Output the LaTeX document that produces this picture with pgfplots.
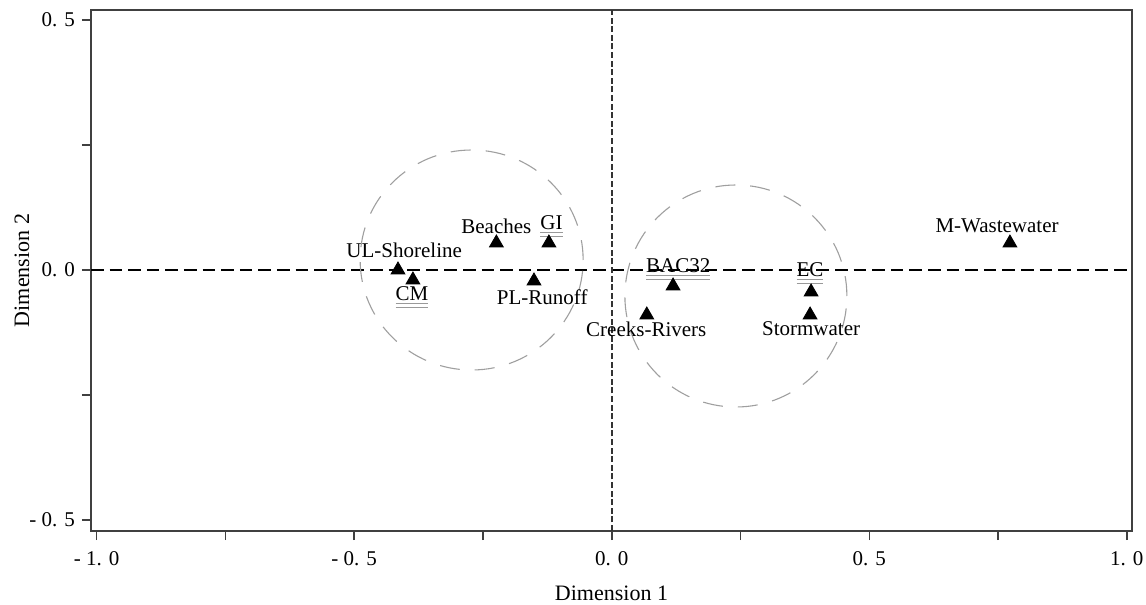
\documentclass[border=0pt]{standalone}
\usepackage{pgfplots}
\pgfplotsset{compat=1.18}
\usepackage{fontspec}
\setmainfont{Liberation Serif}
\newcommand\f{\fontsize{10.5}{12.6}\selectfont}
\newcommand\ul[1]{\textcolor{gray!80}{$\underline{\underline{\hbox{\color{black}#1}}}$}}
\begin{document}
\begin{tikzpicture}
\begin{axis}[
  scale only axis,
  width=520.5pt, height=260.5pt,
  xmin=-1.011, xmax=1.010,
  ymin=-0.522, ymax=0.52,
  axis line style={draw=black!75, line width=0.75pt},
  tick style={draw=black!75, line width=0.75pt},
  major tick length=4.5pt, minor tick length=4.5pt,
  tick align=outside,
  xtick pos=bottom, ytick pos=left,
  xtick={-1,-0.5,0,0.5,1},
  xticklabels={- 1. 0,- 0. 5,0. 0,0. 5,1. 0},
  minor xtick={-0.75,-0.25,0.25,0.75},
  ytick={-0.5,0,0.5},
  yticklabels={- 0. 5,0. 0,0. 5},
  minor ytick={-0.25,0.25},
  ticklabel style={font=\f},
  xticklabel style={yshift=-2pt},
  xlabel={Dimension 1}, ylabel={Dimension 2},
  label style={font=\fontsize{11}{13}\selectfont},
  xlabel style={at={(axis description cs:0.5,0)}, anchor=center, yshift=-31pt},
  ylabel style={at={(axis description cs:0,0.5)}, anchor=center, yshift=34.5pt},
  clip=false,
]
\coordinate (SW) at (rel axis cs:0,0);
\coordinate (NE) at (rel axis cs:1,1);
% reference lines
\addplot[black, line width=0.65pt, dash pattern=on 6.3pt off 3pt] coordinates {(-1.011,0) (1.010,0)};
\addplot[black!80, line width=0.8pt, dash pattern=on 3pt off 1.3pt] coordinates {(0,-0.522) (0,0.52)};
% clusters
\draw[gray!75, line width=0.55pt, dash pattern=on 10pt off 7.5pt] (axis cs:-0.272,0.02) ellipse [x radius=55.75pt, y radius=55pt];
\draw[gray!75, line width=0.55pt, dash pattern=on 10pt off 7.5pt] (axis cs:0.241,-0.052) ellipse [x radius=55.5pt, y radius=55.5pt];
% points
\addplot[only marks, mark=triangle*, mark size=4pt, mark options={fill=black, draw=black}] coordinates {
(-0.415,0.0) (-0.386,-0.02) (-0.224,0.054) (-0.122,0.054) (-0.151,-0.022)
(0.068,-0.09) (0.119,-0.032) (0.387,-0.044) (0.385,-0.09) (0.773,0.054)};
% labels
\begin{scope}[every node/.style={font=\f, inner sep=0pt}]
\node at (axis cs:-0.403,0.040) {UL-Shoreline};
\node at (axis cs:-0.224,0.088) {Beaches};
\node at (axis cs:-0.117,0.086) {\ul{GI}};
\node at (axis cs:-0.388,-0.056) {\ul{CM}};
\node at (axis cs:-0.135,-0.054) {PL-Runoff};
\node at (axis cs:0.067,-0.118) {Creeks-Rivers};
\node at (axis cs:0.129,0.000) {\ul{BAC32}};
\node at (axis cs:0.385,-0.008) {\ul{EC}};
\node at (axis cs:0.387,-0.118) {Stormwater};
\node at (axis cs:0.748,0.088) {M-Wastewater};
\end{scope}
\end{axis}
\pgfresetboundingbox
\path[use as bounding box] ([shift={(-45.5pt,-37pt)}]SW) rectangle ([shift={(7pt,5pt)}]NE);
\end{tikzpicture}
\end{document}
